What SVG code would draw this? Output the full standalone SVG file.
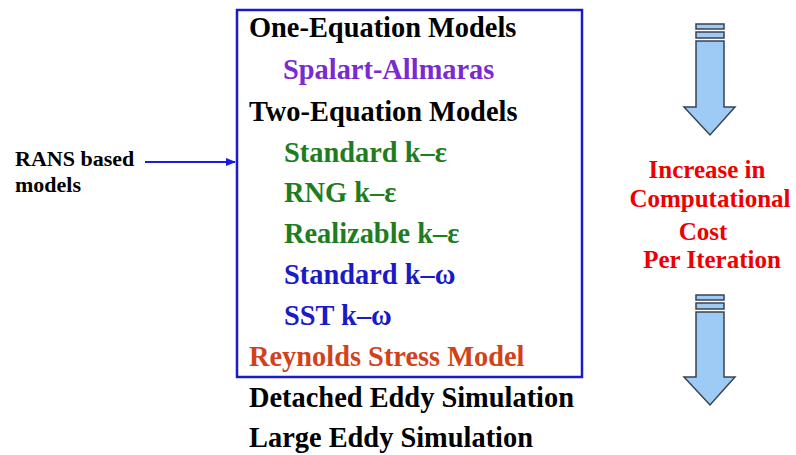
<svg xmlns="http://www.w3.org/2000/svg" width="796" height="455" viewBox="0 0 796 455">
<style>
.t{font-family:"Liberation Serif","Times New Roman",serif;font-weight:bold;font-size:28.4px}
.k{fill:#000}
.p{fill:#7a2ad0}
.g{fill:#1e7d1e}
.b{fill:#1a1ac8}
.o{fill:#d2421a}
.r{fill:#ee0000;font-size:25px;text-anchor:middle}
.s{font-size:22px}
.arr{fill:#9ecbf5;stroke:#3a4250;stroke-width:1.5}
</style>
<defs>
<marker id="ah" markerWidth="10" markerHeight="8" refX="9" refY="4" orient="auto" markerUnits="userSpaceOnUse">
<path d="M0,0 L10,4 L0,8 Z" fill="#1a1ae0"/>
</marker>
</defs>
<rect width="796" height="455" fill="#fff"/>
<g id="rans-box">
<rect x="237" y="10" width="345" height="367" fill="none" stroke="#1a1acc" stroke-width="2.5"/>
</g>
<g id="one-eq"><text class="t k" x="249" y="37">One-Equation Models</text></g>
<g id="sa"><text class="t p" x="283" y="79">Spalart-Allmaras</text></g>
<g id="two-eq"><text class="t k" x="249" y="121">Two-Equation Models</text></g>
<g id="std-ke"><text class="t g" x="284" y="162">Standard k–ε</text></g>
<g id="rng-ke"><text class="t g" x="284" y="202">RNG k–ε</text></g>
<g id="real-ke"><text class="t g" x="284" y="243">Realizable k–ε</text></g>
<g id="std-kw"><text class="t b" x="284" y="284">Standard k–ω</text></g>
<g id="sst-kw"><text class="t b" x="284" y="325">SST k–ω</text></g>
<g id="rsm"><text class="t o" x="249" y="366">Reynolds Stress Model</text></g>
<g id="des"><text class="t k" x="249" y="407">Detached Eddy Simulation</text></g>
<g id="les"><text class="t k" x="249" y="447">Large Eddy Simulation</text></g>
<g id="rans-label"><text class="t k s" x="15" y="166">RANS based</text><text class="t k s" x="15" y="192">models</text></g>
<g id="cost-label">
<text class="t r" x="707" y="178">Increase in</text>
<text class="t r" x="710" y="207">Computational</text>
<text class="t r" x="703" y="240">Cost</text>
<text class="t r" x="712" y="268">Per Iteration</text>
</g>
<g id="arrow-top">
<rect class="arr" x="696" y="24" width="28" height="5"/>
<rect class="arr" x="696" y="32" width="28" height="6"/>
<path class="arr" d="M696,41 L724,41 L724,107 L735,107 L710,135 L684,107 L696,107 Z"/>
</g>
<g id="arrow-bottom">
<rect class="arr" x="696" y="295" width="28" height="5"/>
<rect class="arr" x="696" y="303" width="28" height="6"/>
<path class="arr" d="M696,312 L724,312 L724,377 L735,377 L710,405 L684,377 L696,377 Z"/>
</g>
<g id="connectors">
<line x1="145" y1="162" x2="235" y2="162" stroke="#1a1ae0" stroke-width="2" marker-end="url(#ah)"/>
</g>
</svg>
